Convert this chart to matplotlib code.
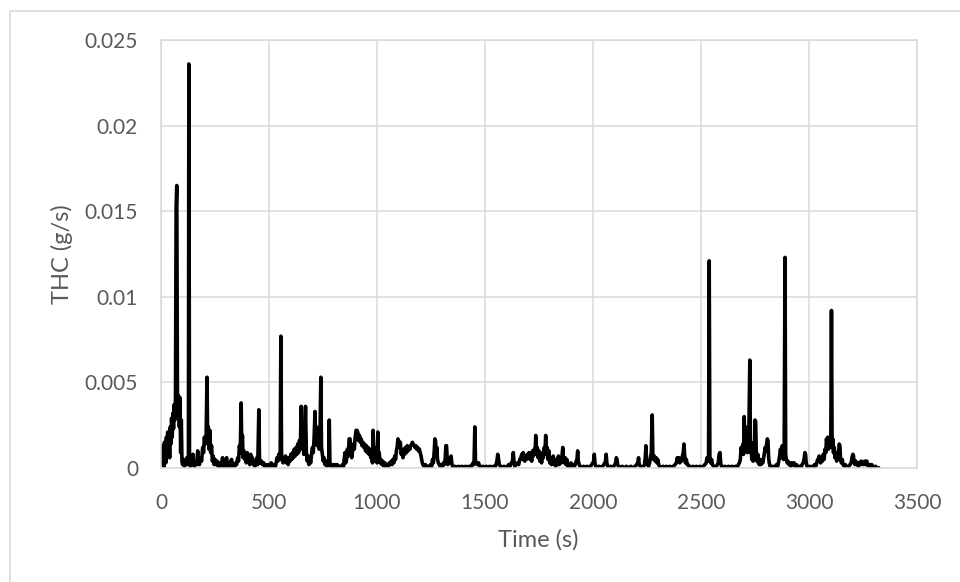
import matplotlib.pyplot as plt
from matplotlib.patches import Rectangle

plt.rcParams['font.family'] = ['Lato', 'DejaVu Sans']

# THC trace (time in s, THC in g/s)
time_s = [
    0, 2, 4, 6, 8, 10, 12, 14, 16, 18,
    20, 22, 25, 28, 31, 34, 37, 40, 43, 46,
    49, 52, 55, 58, 61, 64, 67, 70, 73, 76,
    79, 82, 85, 88, 91, 94, 97, 100, 104, 108,
    112, 116, 120, 124, 127, 129, 132, 136, 140, 144,
    148, 151, 155, 160, 165, 170, 173, 178, 183, 188,
    193, 197, 201, 205, 209, 213, 216, 219, 222, 226,
    230, 234, 238, 242, 246, 250, 255, 260, 265, 270,
    275, 280, 285, 288, 292, 296, 300, 304, 308, 313,
    318, 323, 327, 331, 336, 341, 346, 350, 355, 359,
    363, 367, 371, 374, 377, 380, 384, 388, 391, 395,
    399, 403, 407, 411, 415, 419, 423, 427, 431, 435,
    440, 444, 448, 453, 456, 460, 465, 470, 475, 480,
    486, 492, 498, 504, 510, 516, 522, 528, 533, 537,
    541, 545, 549, 552, 555, 558, 561, 565, 569, 573,
    577, 581, 585, 589, 593, 597, 601, 605, 609, 613,
    617, 621, 625, 629, 633, 637, 641, 645, 649, 653,
    657, 661, 665, 669, 673, 677, 681, 685, 689, 693,
    697, 701, 705, 709, 713, 716, 720, 724, 728, 732,
    736, 740, 743, 747, 751, 755, 759, 764, 768, 772,
    776, 779, 782, 786, 792, 798, 804, 810, 816, 822,
    828, 834, 840, 845, 849, 852, 855, 859, 863, 867,
    871, 875, 879, 883, 887, 891, 895, 899, 903, 907,
    911, 915, 919, 923, 927, 931, 935, 939, 943, 947,
    951, 955, 959, 963, 967, 971, 975, 979, 982, 985,
    988, 992, 996, 1000, 1004, 1007, 1010, 1014, 1018, 1022,
    1027, 1032, 1037, 1042, 1047, 1052, 1057, 1062, 1066, 1070,
    1074, 1078, 1082, 1086, 1090, 1094, 1097, 1100, 1104, 1108,
    1112, 1116, 1120, 1124, 1128, 1132, 1136, 1140, 1144, 1148,
    1152, 1156, 1160, 1164, 1168, 1172, 1176, 1180, 1184, 1188,
    1192, 1196, 1200, 1204, 1208, 1212, 1218, 1224, 1230, 1236,
    1242, 1248, 1253, 1257, 1261, 1265, 1268, 1271, 1274, 1277,
    1280, 1284, 1288, 1293, 1298, 1303, 1308, 1312, 1316, 1319,
    1322, 1325, 1328, 1332, 1336, 1340, 1343, 1346, 1350, 1356,
    1362, 1370, 1378, 1386, 1394, 1402, 1410, 1418, 1426, 1434,
    1440, 1445, 1449, 1453, 1456, 1460, 1465, 1470, 1476, 1483,
    1490, 1498, 1506, 1514, 1522, 1530, 1538, 1545, 1551, 1555,
    1559, 1562, 1566, 1572, 1580, 1588, 1596, 1604, 1610, 1616,
    1622, 1627, 1631, 1634, 1638, 1644, 1650, 1656, 1661, 1666,
    1670, 1674, 1677, 1680, 1684, 1688, 1692, 1696, 1700, 1704,
    1708, 1712, 1716, 1720, 1724, 1728, 1732, 1735, 1738, 1742,
    1746, 1750, 1754, 1758, 1762, 1766, 1770, 1774, 1778, 1781,
    1784, 1788, 1792, 1796, 1800, 1804, 1808, 1812, 1816, 1820,
    1824, 1828, 1832, 1836, 1840, 1844, 1848, 1852, 1856, 1860,
    1863, 1867, 1871, 1875, 1879, 1883, 1888, 1893, 1898, 1903,
    1908, 1913, 1918, 1922, 1926, 1929, 1932, 1936, 1940, 1948,
    1956, 1964, 1972, 1980, 1988, 1994, 1999, 2003, 2006, 2009,
    2013, 2020, 2028, 2036, 2044, 2050, 2055, 2058, 2061, 2064,
    2068, 2075, 2082, 2090, 2096, 2101, 2105, 2108, 2111, 2114,
    2118, 2126, 2135, 2145, 2155, 2165, 2175, 2185, 2195, 2202,
    2207, 2211, 2214, 2219, 2226, 2233, 2238, 2242, 2245, 2248,
    2252, 2257, 2262, 2266, 2270, 2274, 2277, 2280, 2284, 2288,
    2292, 2296, 2300, 2304, 2308, 2316, 2324, 2332, 2340, 2348,
    2356, 2364, 2372, 2380, 2386, 2390, 2394, 2398, 2402, 2406,
    2410, 2414, 2418, 2421, 2424, 2428, 2432, 2436, 2440, 2446,
    2454, 2462, 2470, 2478, 2486, 2494, 2502, 2510, 2518, 2524,
    2528, 2532, 2535, 2538, 2541, 2545, 2549, 2553, 2558, 2564,
    2570, 2576, 2580, 2584, 2588, 2591, 2595, 2603, 2611, 2619,
    2627, 2635, 2643, 2651, 2659, 2667, 2673, 2678, 2682, 2686,
    2690, 2694, 2697, 2700, 2703, 2706, 2709, 2712, 2715, 2718,
    2721, 2726, 2729, 2732, 2735, 2738, 2741, 2744, 2747, 2750,
    2753, 2756, 2759, 2763, 2766, 2770, 2774, 2778, 2782, 2786,
    2790, 2794, 2797, 2800, 2804, 2807, 2810, 2813, 2816, 2820,
    2826, 2832, 2838, 2844, 2850, 2855, 2860, 2864, 2868, 2872,
    2876, 2879, 2882, 2885, 2889, 2892, 2895, 2899, 2903, 2907,
    2911, 2916, 2921, 2926, 2931, 2936, 2942, 2948, 2955, 2962,
    2968, 2973, 2977, 2981, 2984, 2987, 2991, 2998, 3005, 3012,
    3019, 3026, 3031, 3036, 3040, 3044, 3047, 3050, 3054, 3058,
    3062, 3066, 3070, 3074, 3078, 3081, 3084, 3087, 3090, 3094,
    3098, 3101, 3104, 3107, 3110, 3113, 3117, 3120, 3124, 3128,
    3132, 3136, 3140, 3143, 3146, 3150, 3154, 3158, 3163, 3168,
    3173, 3178, 3184, 3190, 3195, 3199, 3203, 3206, 3209, 3213,
    3217, 3221, 3225, 3229, 3233, 3237, 3241, 3245, 3249, 3253,
    3257, 3261, 3265, 3268, 3271, 3275, 3280, 3285, 3290, 3296,
    3302, 3308, 3314, 3321,
]

thc_gs = [
    .0012, .0003, .0010, .0002, .0013, .0004, .0011, .0001, .0015, .0006,
    .0014, .0003, .0018, .0009, .0021, .0012, .0020, .0006, .0024, .0014,
    .0029, .0018, .0032, .0023, .0037, .0028, .0040, .0152, .0165, .0046,
    .0031, .0042, .0024, .0041, .0009, .0028, .0004, .0002, .0005, .0001,
    .0004, .0002, .0006, .0002, .0005, .0236, .0004, .0001, .0003, .0002,
    .0008, .0002, .0001, .0003, .0002, .0010, .0003, .0002, .0006, .0004,
    .0012, .0009, .0018, .0014, .0019, .0053, .0016, .0024, .0011, .0022,
    .0009, .0013, .0004, .0007, .0002, .0005, .0002, .0004, .0001, .0003,
    .0001, .0002, .0006, .0001, .0002, .0001, .0005, .0006, .0001, .0002,
    .0001, .0004, .0005, .0001, .0002, .0001, .0003, .0002, .0006, .0004,
    .0013, .0009, .0038, .0012, .0019, .0006, .0010, .0005, .0008, .0003,
    .0009, .0004, .0007, .0002, .0008, .0003, .0006, .0002, .0004, .0001,
    .0003, .0006, .0002, .0034, .0005, .0003, .0004, .0002, .0003, .0001,
    .0002, .0001, .0002, .0001, .0003, .0001, .0002, .0000, .0003, .0006,
    .0004, .0008, .0005, .0010, .0077, .0009, .0005, .0003, .0006, .0004,
    .0007, .0003, .0005, .0002, .0006, .0004, .0008, .0005, .0009, .0006,
    .0011, .0007, .0012, .0008, .0014, .0009, .0016, .0011, .0036, .0013,
    .0020, .0008, .0015, .0036, .0009, .0004, .0007, .0002, .0005, .0003,
    .0008, .0012, .0009, .0018, .0033, .0014, .0024, .0013, .0021, .0011,
    .0019, .0053, .0012, .0008, .0004, .0006, .0002, .0004, .0001, .0003,
    .0002, .0028, .0003, .0001, .0002, .0000, .0002, .0001, .0002, .0000,
    .0001, .0000, .0002, .0001, .0006, .0009, .0003, .0005, .0011, .0007,
    .0017, .0017, .0009, .0006, .0010, .0014, .0011, .0018, .0022, .0022,
    .0021, .0016, .0019, .0015, .0017, .0013, .0015, .0012, .0014, .0010,
    .0013, .0009, .0012, .0008, .0011, .0006, .0009, .0003, .0022, .0007,
    .0012, .0004, .0010, .0003, .0021, .0006, .0009, .0003, .0005, .0002,
    .0004, .0001, .0003, .0001, .0002, .0001, .0003, .0002, .0004, .0002,
    .0005, .0003, .0007, .0005, .0010, .0013, .0017, .0016, .0012, .0015,
    .0008, .0010, .0006, .0011, .0008, .0012, .0009, .0013, .0010, .0012,
    .0011, .0013, .0014, .0015, .0014, .0013, .0012, .0013, .0011, .0012,
    .0010, .0011, .0009, .0007, .0004, .0002, .0001, .0002, .0000, .0001,
    .0000, .0002, .0001, .0005, .0003, .0010, .0017, .0016, .0008, .0012,
    .0005, .0003, .0002, .0001, .0002, .0001, .0003, .0002, .0006, .0013,
    .0013, .0005, .0002, .0004, .0003, .0006, .0007, .0003, .0001, .0000,
    .0001, .0000, .0001, .0000, .0001, .0000, .0001, .0000, .0001, .0000,
    .0002, .0003, .0002, .0024, .0004, .0003, .0002, .0003, .0001, .0000,
    .0001, .0000, .0001, .0000, .0001, .0000, .0001, .0000, .0002, .0004,
    .0008, .0006, .0002, .0001, .0000, .0001, .0000, .0001, .0002, .0001,
    .0003, .0004, .0009, .0004, .0001, .0002, .0003, .0002, .0005, .0006,
    .0008, .0005, .0009, .0006, .0004, .0007, .0005, .0008, .0006, .0009,
    .0005, .0008, .0004, .0010, .0007, .0011, .0009, .0019, .0008, .0012,
    .0006, .0010, .0004, .0008, .0003, .0009, .0006, .0012, .0010, .0019,
    .0008, .0012, .0005, .0010, .0003, .0006, .0002, .0005, .0007, .0002,
    .0004, .0001, .0005, .0003, .0007, .0002, .0004, .0003, .0006, .0012,
    .0005, .0003, .0006, .0002, .0005, .0001, .0002, .0001, .0003, .0001,
    .0002, .0001, .0002, .0004, .0005, .0010, .0004, .0002, .0001, .0000,
    .0001, .0000, .0001, .0000, .0001, .0002, .0003, .0004, .0008, .0003,
    .0001, .0000, .0001, .0000, .0001, .0002, .0003, .0004, .0008, .0003,
    .0001, .0000, .0001, .0000, .0001, .0002, .0003, .0006, .0005, .0002,
    .0001, .0000, .0001, .0000, .0001, .0000, .0001, .0000, .0001, .0002,
    .0003, .0006, .0002, .0001, .0000, .0001, .0002, .0006, .0013, .0004,
    .0002, .0001, .0003, .0006, .0009, .0031, .0008, .0005, .0007, .0004,
    .0006, .0003, .0005, .0002, .0001, .0000, .0001, .0000, .0001, .0000,
    .0001, .0000, .0001, .0002, .0003, .0006, .0004, .0006, .0003, .0005,
    .0004, .0007, .0009, .0014, .0008, .0003, .0005, .0002, .0002, .0001,
    .0000, .0001, .0000, .0001, .0000, .0001, .0000, .0001, .0002, .0003,
    .0006, .0004, .0007, .0121, .0006, .0003, .0005, .0002, .0001, .0000,
    .0001, .0002, .0003, .0008, .0009, .0003, .0001, .0000, .0001, .0000,
    .0001, .0000, .0001, .0000, .0001, .0000, .0002, .0003, .0005, .0012,
    .0009, .0014, .0008, .0030, .0013, .0024, .0011, .0020, .0009, .0022,
    .0014, .0063, .0009, .0015, .0005, .0012, .0004, .0010, .0005, .0028,
    .0027, .0008, .0004, .0008, .0003, .0002, .0005, .0002, .0004, .0003,
    .0006, .0009, .0012, .0010, .0014, .0017, .0016, .0006, .0003, .0001,
    .0000, .0001, .0000, .0001, .0002, .0001, .0004, .0007, .0011, .0006,
    .0013, .0008, .0005, .0007, .0123, .0008, .0005, .0003, .0004, .0002,
    .0003, .0001, .0003, .0002, .0003, .0001, .0002, .0000, .0001, .0000,
    .0002, .0003, .0005, .0009, .0008, .0003, .0001, .0000, .0001, .0000,
    .0001, .0002, .0001, .0003, .0005, .0004, .0007, .0004, .0003, .0006,
    .0004, .0008, .0005, .0011, .0009, .0017, .0013, .0018, .0011, .0016,
    .0012, .0017, .0092, .0012, .0017, .0009, .0012, .0006, .0009, .0004,
    .0007, .0008, .0014, .0013, .0005, .0003, .0005, .0002, .0001, .0002,
    .0001, .0000, .0001, .0002, .0003, .0006, .0008, .0007, .0003, .0002,
    .0004, .0002, .0003, .0001, .0003, .0002, .0004, .0003, .0002, .0003,
    .0004, .0002, .0004, .0004, .0002, .0001, .0002, .0001, .0002, .0001,
    .0000, .0001, .0000, .0000,
]

assert len(time_s) == len(thc_gs)

x_ticks = [0, 500, 1000, 1500, 2000, 2500, 3000, 3500]
y_ticks = [0, 0.005, 0.01, 0.015, 0.02, 0.025]
y_tick_labels = ['0', '0.005', '0.01', '0.015', '0.02', '0.025']

grey = '#d9d9d9'
text_grey = '#595959'

fig = plt.figure(figsize=(9.6, 5.82), dpi=100)
ax = fig.add_axes([161 / 960, 1 - 468 / 582, 756 / 960, 428 / 582])

ax.plot(time_s, thc_gs, color='black', lw=2.6, solid_joinstyle='round')

ax.set_xlim(0, 3500)
ax.set_ylim(0, 0.025)
ax.set_xticks(x_ticks)
ax.set_yticks(y_ticks)
ax.set_yticklabels(y_tick_labels)
ax.grid(True, color=grey, lw=1.1)
ax.set_axisbelow(True)
for s in ax.spines.values():
    s.set_color(grey)
    s.set_linewidth(1.1)
ax.tick_params(length=0, labelsize=15, labelcolor=text_grey)
ax.tick_params(axis='y', pad=16.5)
ax.tick_params(axis='x', pad=18)

ax.set_xlabel('Time (s)', fontsize=17, color=text_grey)
ax.set_ylabel('THC (g/s)', fontsize=17, color=text_grey)
ax.xaxis.set_label_coords(0.499, -0.1425)
ax.yaxis.set_label_coords(-0.1164, 0.5)

# chart area border (cut off on the right and bottom in the original)
fig.patches.append(Rectangle((9.5 / 960, -0.2), 1.2, 1 - 10.5 / 582 + 0.2,
                             transform=fig.transFigure, fill=False,
                             edgecolor=grey, lw=1.2))

plt.savefig('out.png', dpi=100)
